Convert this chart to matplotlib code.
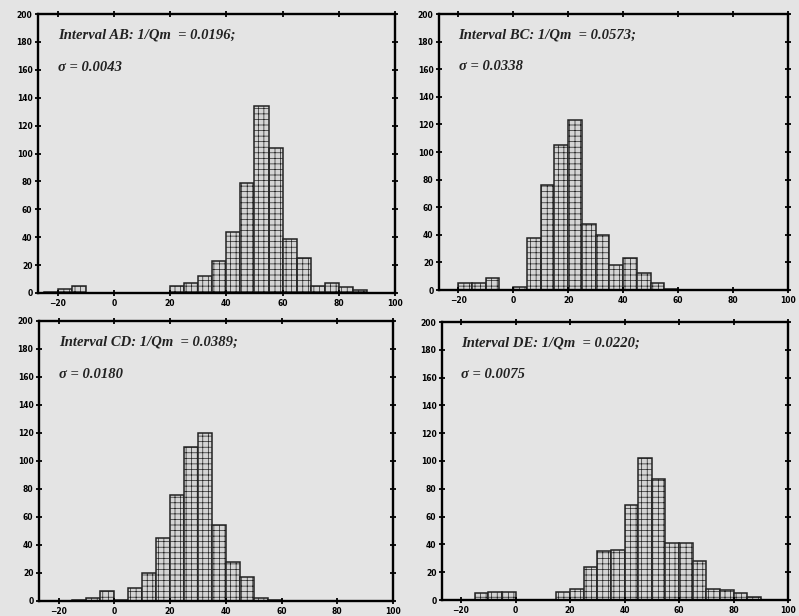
import matplotlib.pyplot as plt
import numpy as np

# bin left edges (width 5) and counts
edges = np.arange(-25, 95, 5)

ab_counts = [1, 3, 5, 0, 0, 0, 0, 0, 0, 5, 7, 12, 23, 44, 79, 134, 104, 39, 25, 5, 7, 4, 2, 0]
bc_counts = [0, 5, 5, 9, 0, 2, 38, 76, 105, 123, 48, 40, 18, 23, 12, 5, 1, 0, 0, 0, 0, 0, 0, 0]
cd_counts = [0, 0, 1, 2, 7, 1, 9, 20, 45, 76, 110, 120, 54, 28, 17, 2, 1, 0, 0, 0, 0, 0, 0, 0]
de_counts = [0, 0, 5, 6, 6, 0, 0, 0, 6, 8, 24, 35, 36, 68, 102, 87, 41, 41, 28, 8, 7, 5, 2, 0]

titles = ["Interval AB: 1/Qm  = 0.0196;", "Interval BC: 1/Qm  = 0.0573;",
          "Interval CD: 1/Qm  = 0.0389;", "Interval DE: 1/Qm  = 0.0220;"]
sigmas = ["\u03c3 = 0.0043", "\u03c3 = 0.0338", "\u03c3 = 0.0180", "\u03c3 = 0.0075"]

xticks = [-20, 0, 20, 40, 60, 80, 100]
yticks = list(range(0, 201, 20))

bg = '#e4e4e4'
plt.rcParams['hatch.linewidth'] = 0.5
plt.rcParams['hatch.color'] = '#858585'

fig = plt.figure(figsize=(7.99, 6.16), dpi=100, facecolor=bg)
W, H = 799, 616
boxes = [(38, 14, 395, 293), (439, 14, 788, 290), (39, 321, 393, 601), (442, 322, 788, 600)]
data = [ab_counts, bc_counts, cd_counts, de_counts]

for (l, t, r, b), counts, title, sig in zip(boxes, data, titles, sigmas):
    ax = fig.add_axes([l / W, 1 - b / H, (r - l) / W, (b - t) / H])
    ax.set_facecolor(bg)
    ax.bar(edges, counts, width=5, align='edge', color='#d4d4d4',
           edgecolor='#222222', linewidth=1.1, hatch='+++')
    ax.set_xlim(-27, 100)
    ax.set_ylim(0, 200)
    ax.set_xticks(xticks)
    ax.set_yticks(yticks)
    ax.tick_params(direction='inout', length=4, width=1.3, labelsize=5.5,
                   top=True, right=True, pad=2)
    for lab in ax.get_xticklabels() + ax.get_yticklabels():
        lab.set_fontweight('bold')
    for s in ax.spines.values():
        s.set_linewidth(1.7)
    ax.text(0.056, 0.925, title, transform=ax.transAxes, family='Liberation Serif',
            style='italic', weight='bold', fontsize=10.5, va='center', color='#222222')
    ax.text(0.056, 0.81, sig, transform=ax.transAxes, family='Liberation Serif',
            style='italic', weight='bold', fontsize=10.5, va='center', color='#222222')

fig.savefig('out.png', dpi=100, facecolor=bg)
